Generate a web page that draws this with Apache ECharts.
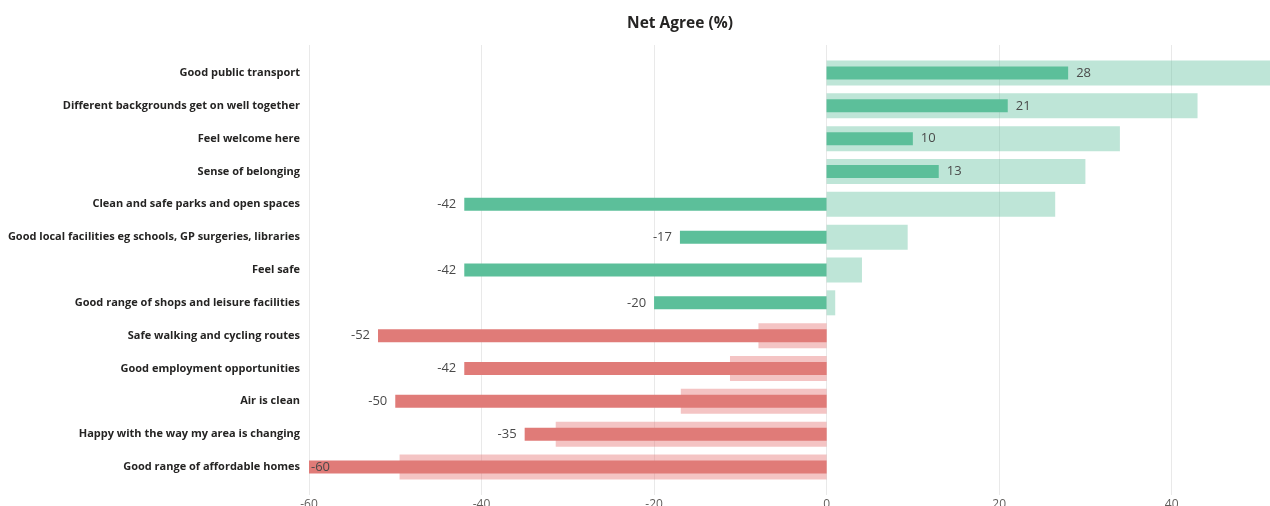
<!DOCTYPE html>
<html>
<head>
<meta charset="utf-8">
<script src="https://cdn.jsdelivr.net/npm/echarts@6/dist/echarts.min.js"></script>
<style>
html,body{margin:0;padding:0;background:#fff;}
#chart{width:1270px;height:506px;}
</style>
</head>
<body>
<div id="chart"></div>
<script>
const categories = [
  'Good public transport',
  'Different backgrounds get on well together',
  'Feel welcome here',
  'Sense of belonging',
  'Clean and safe parks and open spaces',
  'Good local facilities eg schools, GP surgeries, libraries',
  'Feel safe',
  'Good range of shops and leisure facilities',
  'Safe walking and cycling routes',
  'Good employment opportunities',
  'Air is clean',
  'Happy with the way my area is changing',
  'Good range of affordable homes'
];
const netAgree = [28, 21, 10, 13, -42, -17, -42, -20, -52, -42, -50, -35, -60];
const comparison = [52, 43, 34, 30, 26.5, 9.4, 4.1, 1.0, -7.9, -11.2, -16.9, -31.4, -49.5];
const tone = ['positive','positive','positive','positive','positive','positive','positive','positive',
              'negative','negative','negative','negative','negative'];
const xTicks = [-60, -40, -20, 0, 20, 40];

const xMin = -60, xMax = 51.4, xStep = 20;
const darkColor = { positive: '#5cbf9a', negative: '#e07b78' };
const lightColor = { positive: 'rgba(92,191,154,0.4)', negative: 'rgba(228,115,115,0.42)' };

const chart = echarts.init(document.getElementById('chart'));
const option = {
  animation: false,
  backgroundColor: '#ffffff',
  title: {
    text: 'Net Agree (%)',
    left: 675, top: 11, textAlign: 'center',
    textStyle: { fontFamily: 'Open Sans', fontWeight: 'bold', fontSize: 15.5, color: '#252423' }
  },
  grid: [
    { left: 309, right: 0, top: 56.6, height: 426.8, containLabel: false, outerBoundsMode: 'none' },
    { left: 309, right: 0, top: 45, bottom: 11, containLabel: false, outerBoundsMode: 'none' }
  ],
  xAxis: [
    { type: 'value', gridIndex: 0, min: xMin, max: xMax, interval: xStep,
      axisLine: { show: false }, axisTick: { show: false }, axisLabel: { show: false }, splitLine: { show: false } },
    { type: 'value', gridIndex: 1, min: xMin, max: xMax, interval: xStep,
      axisLine: { show: false }, axisTick: { show: false },
      splitLine: { show: true, lineStyle: { color: '#e9e9e9', width: 1 } },
      axisLabel: { show: true, margin: 4, fontFamily: 'Open Sans', fontSize: 12, color: '#605e5c',
        showMaxLabel: false,
        formatter: v => xTicks.indexOf(v) >= 0 ? String(v) : '' } }
  ],
  yAxis: [
    { type: 'category', gridIndex: 0, data: categories, inverse: true,
      axisLine: { show: false }, axisTick: { show: false }, splitLine: { show: false },
      axisLabel: { margin: 9, fontFamily: 'Open Sans', fontWeight: 'bold', fontSize: 11, color: '#252423' } },
    { type: 'category', gridIndex: 0, data: categories, inverse: true, show: false },
    { type: 'value', gridIndex: 1, show: false, min: 0, max: 1 }
  ],
  series: [
    {
      type: 'bar', name: 'Comparison', xAxisIndex: 0, yAxisIndex: 1,
      barWidth: 25, silent: true, clip: true,
      data: comparison.map((v, i) => ({ value: v, itemStyle: { color: lightColor[tone[i]] } })),
      z: 2
    },
    {
      type: 'bar', name: 'Net Agree', xAxisIndex: 0, yAxisIndex: 0,
      barWidth: 13, clip: true,
      data: netAgree.map((v, i) => ({
        value: v,
        itemStyle: { color: darkColor[tone[i]] },
        label: {
          show: true,
          position: v <= xMin ? 'insideLeft' : (v >= 0 ? 'right' : 'left'),
          distance: v <= xMin ? 2 : 8
        }
      })),
      label: { show: true, fontFamily: 'Open Sans', fontSize: 13, color: '#4a4a4a' },
      z: 3
    }
  ]
};
chart.setOption(option);
</script>
</body>
</html>
